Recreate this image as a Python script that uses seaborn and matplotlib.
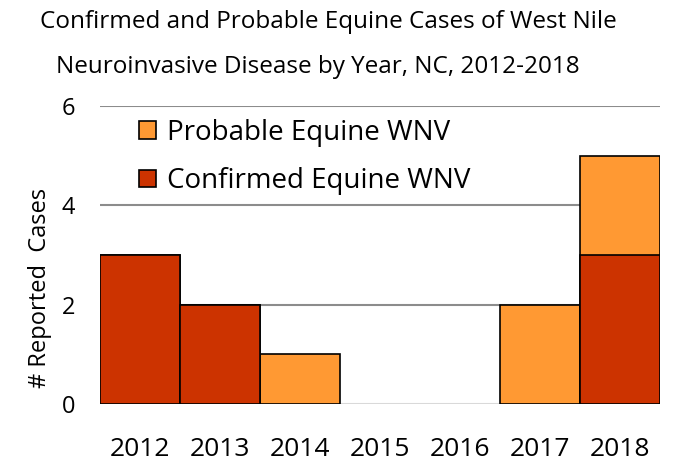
import matplotlib
matplotlib.use("Agg")
import matplotlib.pyplot as plt
import seaborn as sns
import pandas as pd
from matplotlib.patches import Patch

years = ["2012", "2013", "2014", "2015", "2016", "2017", "2018"]
confirmed = [3, 2, 0, 0, 0, 0, 3]
probable = [0, 0, 1, 0, 0, 2, 2]

c_conf = "#CC3300"
c_prob = "#FF9933"

sns.set_theme(style="white")
plt.rcParams["font.family"] = ["Open Sans", "DejaVu Sans"]
plt.rcParams["text.color"] = "black"
plt.rcParams["axes.labelcolor"] = "black"
plt.rcParams["xtick.color"] = "black"
plt.rcParams["ytick.color"] = "black"

df = pd.DataFrame({"year": years, "confirmed": confirmed, "probable": probable})
df["total"] = df["confirmed"] + df["probable"]

fig = plt.figure(figsize=(6.75, 4.69), dpi=100)
ax = fig.add_axes([0.148, 0.139, 0.83, 0.635])

# gridlines
for y in [2, 4, 6]:
    ax.axhline(y, color="#8c8c8c", lw=1.5, zorder=0)
ax.axhline(0, color="#d9d9d9", lw=1.5, zorder=0)

# total first (probable colour), confirmed drawn over it
sns.barplot(data=df, x="year", y="total", color=c_prob, saturation=1, width=1,
            edgecolor="black", linewidth=1.2, ax=ax, zorder=2)
sns.barplot(data=df, x="year", y="confirmed", color=c_conf, saturation=1, width=1,
            edgecolor="black", linewidth=1.2, ax=ax, zorder=3)
for p in ax.patches:
    if p.get_height() == 0:
        p.set_visible(False)

ax.set_xlim(-0.5, 6.5)
ax.set_ylim(0, 6)
ax.set_yticks([0, 2, 4, 6])
ax.tick_params(axis="y", labelsize=17, pad=18, length=0)
ax.tick_params(axis="x", labelsize=19, pad=24, length=0)
ax.set_xlabel("")
ax.set_ylabel("# Reported  Cases", fontsize=17)
ax.yaxis.set_label_coords(-0.085, 0.39)
for s in ax.spines.values():
    s.set_visible(False)

handles = [Patch(facecolor=c_prob, edgecolor="black", lw=1.2),
           Patch(facecolor=c_conf, edgecolor="black", lw=1.2)]
ax.legend(handles, ["Probable Equine WNV", "Confirmed Equine WNV"],
          loc="upper left", bbox_to_anchor=(0.05, 0.995), frameon=False,
          fontsize=20, handlelength=0.6, handleheight=0.6, handletextpad=0.4,
          labelspacing=0.75, borderaxespad=0)

fig.text(0.487, 0.953, "Confirmed and Probable Equine Cases of West Nile",
         ha="center", va="center", fontsize=17.5)
fig.text(0.471, 0.857, "Neuroinvasive Disease by Year, NC, 2012-2018",
         ha="center", va="center", fontsize=17.5)

fig.savefig("out.png", dpi=100)
